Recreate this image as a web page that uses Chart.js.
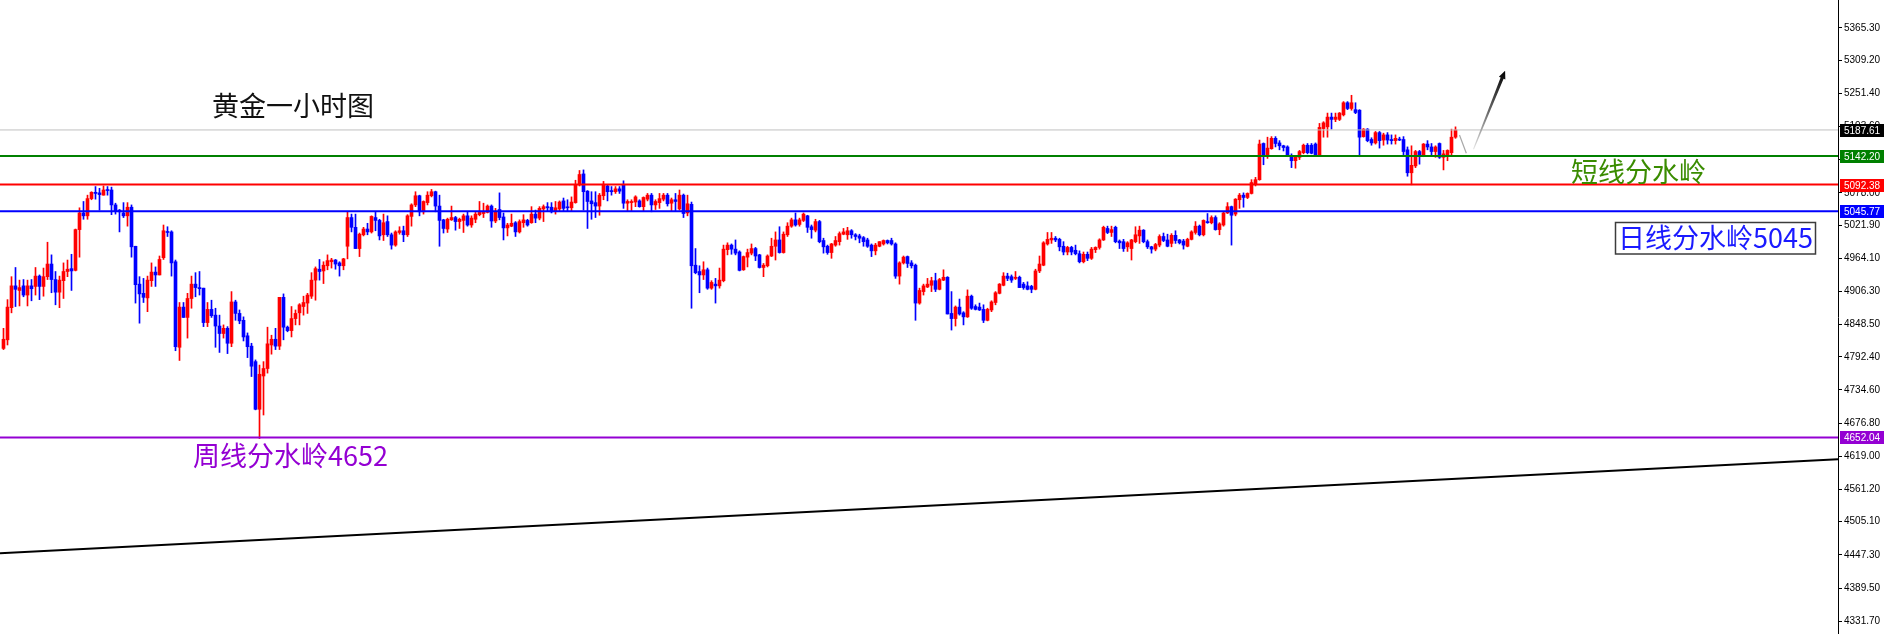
<!DOCTYPE html>
<html>
<head>
<meta charset="utf-8">
<title>黄金一小时图</title>
<script src="https://cdn.jsdelivr.net/npm/chart.js@4.4.1/dist/chart.umd.min.js"></script>
<style>
  html, body { margin: 0; padding: 0; background: #fff; }
  #wrap { width: 1885px; height: 634px; }
</style>
</head>
<body>
<div id="wrap"><canvas id="goldChart" width="1885" height="634"></canvas></div>
<script>
// hourly gold candles (one entry per bar)
const opens = [
  4807,4822,4878,4916,4908,4916,4900,4916,4915,4933,
  4915,4932,4954,4927,4905,4925,4941,4946,4943,5014,
  5043,5038,5068,5079,5078,5074,5083,5083,5057,5048,
  5043,5038,5053,4985,4919,4903,4895,4925,4940,4935,
  4965,5010,5010,4958,4809,4879,4861,4894,4919,4913,
  4912,4852,4875,4865,4846,4833,4842,4816,4888,4868,
  4856,4829,4811,4784,4701,4759,4772,4813,4823,4811,
  4896,4844,4838,4859,4869,4880,4886,4898,4926,4945,
  4942,4951,4958,4961,4956,4951,4985,5035,5018,4981,
  5005,5015,5010,5035,5030,5005,5028,5005,4987,5009,
  5012,5005,5037,5057,5073,5045,5061,5073,5080,5055,
  5031,5015,5031,5035,5028,5030,5038,5022,5032,5040,
  5042,5044,5055,5029,5049,5036,5017,5020,5026,5010,
  5026,5030,5026,5041,5034,5050,5054,5053,5046,5050,
  5064,5053,5052,5061,5092,5111,5081,5064,5061,5055,
  5073,5090,5082,5080,5085,5092,5060,5061,5062,5064,
  5054,5067,5074,5057,5061,5067,5074,5060,5066,5050,
  5074,5043,5058,4952,4941,4935,4944,4912,4919,4916,
  4925,4979,4987,4980,4975,4944,4966,4973,4981,4970,
  4948,4951,4968,4985,4996,4974,5005,5020,5031,5023,
  5030,5038,5019,5013,5028,4995,4985,4974,4987,4993,
  5006,5005,5012,5005,5003,5000,4996,4987,4977,4985,
  4989,4995,4995,4989,4933,4956,4967,4956,4952,4886,
  4906,4914,4917,4925,4910,4926,4931,4868,4859,4879,
  4869,4862,4898,4880,4879,4875,4856,4874,4887,4903,
  4917,4933,4932,4929,4931,4919,4916,4915,4910,4942,
  4952,4989,4996,4999,4997,4985,4975,4983,4978,4972,
  4958,4971,4964,4979,4983,4996,5016,5009,5018,4994,
  4993,4984,4981,4993,5003,5013,4993,4984,4980,4987,
  5002,4996,4990,5004,4996,4994,4985,4997,5009,5020,
  5005,5028,5026,5035,5014,5022,5043,5054,5041,5066,
  5074,5070,5077,5094,5101,5164,5142,5155,5173,5165,
  5160,5158,5142,5134,5140,5148,5161,5161,5163,5144,
  5190,5193,5210,5206,5206,5214,5235,5225,5223,5222,
  5176,5189,5171,5165,5183,5170,5179,5171,5169,5171,
  5171,5153,5113,5125,5150,5142,5163,5158,5150,5164,
  5140,5142,5148,5175
];
const highs = [
  4842,4892,4932,4948,4926,4927,4926,4927,4948,4935,
  4947,4992,4970,4941,4933,4956,4961,4971,5015,5052,
  5063,5074,5080,5089,5086,5090,5089,5088,5060,5049,
  5061,5061,5057,4985,4932,4929,4933,4956,4949,4968,
  5022,5019,5012,4961,4887,4887,4903,4933,4939,4941,
  4912,4887,4891,4877,4865,4848,4845,4906,4891,4874,
  4862,4834,4816,4787,4778,4784,4844,4830,4842,4896,
  4902,4846,4880,4874,4885,4898,4903,4939,4949,4962,
  4958,4970,4964,4962,4958,4964,5045,5041,5041,5008,
  5018,5025,5038,5044,5032,5041,5038,5008,5012,5019,
  5020,5040,5059,5080,5074,5064,5080,5084,5081,5074,
  5032,5034,5055,5037,5034,5041,5045,5038,5044,5063,
  5060,5057,5057,5051,5078,5043,5025,5041,5028,5031,
  5040,5032,5054,5048,5054,5057,5061,5061,5063,5064,
  5069,5066,5071,5100,5117,5118,5082,5080,5080,5077,
  5098,5092,5089,5089,5089,5099,5066,5066,5073,5066,
  5071,5077,5077,5066,5077,5077,5077,5069,5077,5083,
  5076,5074,5062,4981,4951,4958,4947,4925,4929,4947,
  4987,4991,4989,4996,4977,4968,4980,4989,4983,4971,
  4955,4970,4999,5010,5019,5010,5026,5034,5043,5034,
  5043,5039,5022,5032,5030,4999,4987,4990,5002,5010,
  5016,5018,5014,5007,5006,5002,4999,4989,4990,4993,
  4996,4996,4999,4991,4958,4968,4968,4960,4954,4912,
  4919,4929,4931,4938,4929,4944,4932,4906,4881,4893,
  4871,4909,4900,4883,4886,4883,4877,4890,4906,4920,
  4939,4938,4935,4941,4933,4922,4923,4917,4945,4968,
  4993,5009,5009,5002,4999,4993,4985,4985,4987,4977,
  4975,4975,4983,4984,4998,5020,5020,5020,5020,4996,
  4997,4993,4997,5019,5020,5014,4996,4985,4990,5005,
  5008,5006,5007,5012,4997,4997,4999,5012,5028,5022,
  5031,5042,5038,5038,5026,5045,5061,5055,5068,5077,
  5078,5078,5101,5105,5170,5165,5175,5176,5176,5169,
  5161,5160,5146,5142,5152,5163,5164,5164,5165,5199,
  5202,5217,5217,5217,5218,5237,5237,5248,5235,5223,
  5190,5190,5174,5185,5185,5182,5183,5179,5179,5175,
  5176,5158,5160,5152,5152,5164,5169,5164,5160,5165,
  5152,5153,5189,5193
];
const lows = [
  4805,4813,4869,4880,4881,4897,4881,4890,4900,4892,
  4898,4927,4904,4883,4878,4894,4932,4908,4942,4966,
  5032,5032,5066,5067,5048,5074,5074,5040,5041,5010,
  5035,5020,4966,4886,4851,4887,4871,4915,4915,4935,
  4962,5002,4933,4803,4786,4861,4825,4877,4897,4900,
  4845,4845,4861,4809,4800,4825,4798,4810,4856,4850,
  4820,4791,4758,4700,4650,4691,4764,4797,4805,4805,
  4822,4836,4827,4848,4848,4865,4868,4894,4891,4926,
  4920,4944,4947,4945,4933,4944,4963,5010,4981,4967,
  5003,5005,5008,5012,4996,4995,5002,4980,4985,5006,
  4993,5002,5020,5054,5038,5041,5057,5071,5045,4985,
  5008,5009,5030,5013,5016,5009,5020,5018,5026,5038,
  5035,5043,5018,5026,5031,4996,5003,5019,5002,5008,
  5018,5020,5025,5026,5031,5028,5047,5043,5041,5047,
  5047,5047,5047,5060,5090,5048,5016,5032,5035,5039,
  5066,5064,5074,5077,5077,5051,5047,5047,5054,5053,
  5047,5064,5045,5049,5051,5064,5055,5047,5047,5048,
  5035,5038,4877,4937,4904,4927,4910,4910,4886,4912,
  4923,4970,4971,4970,4942,4943,4949,4970,4960,4947,
  4932,4949,4967,4961,4973,4973,5002,5018,5020,5020,
  5028,5009,4999,5010,4991,4973,4971,4964,4985,4987,
  5005,4997,4999,4996,4991,4985,4983,4967,4970,4984,
  4987,4989,4987,4929,4919,4954,4948,4947,4856,4884,
  4900,4913,4906,4906,4909,4925,4867,4839,4846,4865,
  4848,4861,4875,4874,4873,4852,4855,4871,4883,4902,
  4916,4925,4922,4927,4913,4910,4909,4904,4909,4939,
  4951,4987,4990,4993,4977,4970,4970,4970,4970,4956,
  4956,4960,4962,4974,4980,4995,5007,5002,4991,4981,
  4976,4976,4961,4991,4990,4991,4981,4973,4977,4984,
  4993,4984,4984,4990,4989,4980,4984,4996,5006,5003,
  5003,5025,5024,5013,5005,5020,5042,4987,5038,5051,
  5053,5068,5076,5090,5100,5127,5138,5154,5158,5153,
  5151,5141,5122,5121,5136,5146,5146,5146,5142,5142,
  5175,5175,5189,5202,5204,5212,5223,5222,5216,5141,
  5175,5167,5161,5163,5156,5161,5163,5163,5163,5169,
  5142,5107,5092,5122,5128,5141,5153,5142,5140,5138,
  5118,5134,5142,5173
];
const closes = [
  4823,4879,4916,4910,4913,4900,4916,4911,4933,4915,
  4932,4954,4927,4905,4926,4941,4945,4942,5014,5043,
  5038,5068,5079,5077,5075,5083,5082,5057,5047,5045,
  5038,5053,4984,4918,4902,4896,4926,4940,4935,4962,
  5012,5009,4956,4810,4879,4861,4894,4919,4913,4911,
  4852,4875,4864,4846,4833,4842,4816,4888,4868,4855,
  4827,4810,4776,4701,4762,4772,4815,4823,4811,4896,
  4844,4838,4859,4868,4883,4887,4900,4926,4946,4941,
  4952,4960,4961,4954,4951,4963,5035,5018,4981,5006,
  5015,5010,5037,5030,5003,5026,5005,4987,5010,5012,
  5005,5038,5057,5073,5045,5063,5074,5080,5055,5030,
  5016,5032,5035,5028,5032,5038,5022,5034,5041,5044,
  5044,5055,5029,5045,5035,5017,5022,5025,5010,5028,
  5031,5022,5041,5034,5051,5054,5052,5045,5052,5062,
  5051,5052,5062,5092,5110,5080,5063,5059,5055,5074,
  5093,5080,5080,5085,5081,5060,5063,5063,5071,5054,
  5070,5074,5057,5063,5068,5074,5059,5066,5063,5074,
  5042,5059,4951,4939,4935,4944,4912,4922,4916,4926,
  4980,4987,4980,4973,4943,4967,4974,4981,4968,4948,
  4952,4968,4985,4996,4974,5006,5020,5031,5022,5031,
  5041,5018,5014,5028,4993,4984,4974,4989,4995,5007,
  5010,5012,5005,5002,4999,4993,4985,4977,4987,4993,
  4995,4991,4989,4933,4956,4966,4955,4951,4886,4908,
  4916,4919,4925,4910,4927,4931,4867,4859,4879,4867,
  4862,4898,4877,4875,4874,4856,4875,4888,4904,4919,
  4933,4929,4926,4931,4913,4913,4910,4910,4942,4954,
  4991,4997,4999,4996,4984,4975,4983,4975,4972,4958,
  4971,4964,4980,4983,4996,5018,5009,5014,4993,4991,
  4981,4991,4996,5005,5013,4993,4984,4980,4988,5002,
  4995,4985,5004,4995,4991,4987,4997,5010,5020,5005,
  5030,5026,5035,5014,5024,5043,5054,5039,5067,5074,
  5070,5077,5096,5101,5163,5142,5156,5173,5164,5160,
  5157,5142,5134,5141,5150,5161,5148,5147,5144,5192,
  5200,5210,5206,5210,5217,5235,5225,5235,5218,5175,
  5189,5169,5165,5183,5169,5179,5170,5169,5173,5170,
  5150,5113,5126,5150,5142,5163,5158,5150,5158,5140,
  5146,5152,5175,5187.61
];

// horizontal price levels: bid, short-term, red, daily, weekly
const levelPrices = [5187.61, 5142.20, 5092.38, 5045.77, 4652.04];
// price axis labels as printed on the right scale
const tickPrices = [
  5365.30, 5309.20, 5251.40, 5193.60, 5135.80, 5078.00, 5021.90, 4964.10,
  4906.30, 4848.50, 4792.40, 4734.60, 4676.80, 4619.00, 4561.20, 4505.10,
  4447.30, 4389.50, 4331.70
];
// rising trend line, given as (bar index, price) at both ends
const trendBars = [-0.875, 458.625];
const trendPrices = [4450, 4614];
// hand drawn forecast arrow: a small dip, then up
const arrowBars = [364.0, 365.7, 367.5, 375.4];
const arrowPrices = [5178.8, 5146.9, 5153.9, 5290.8];

const X_MIN = -0.875, X_MAX = 458.625;
const levelColors = ["#c0c0c0", "#008000", "#ff0000", "#0000ff", "#9400d3"];

const idx = opens.map((o, i) => i);
const up = idx.map(i => closes[i] >= opens[i]);
const candleColors = up.map(u => (u ? "#ff0000" : "#0000ff"));

const levelSets = levelPrices.map((p, k) => ({
  type: "line",
  data: [{ x: X_MIN - 5, y: p }, { x: X_MAX + 5, y: p }],
  borderColor: levelColors[k],
  borderWidth: k === 0 ? 1 : 2,
  pointRadius: 0,
  order: 0,
}));

// labels, arrow and the coloured price tags on the axis
const extras = {
  id: "extras",
  afterDatasetsDraw(chart) {
    const { ctx, scales } = chart;
    const px = (b, p) => [scales.x.getPixelForValue(b), scales.y.getPixelForValue(p)];
    ctx.save();

    // arrow, first the short gray dip
    const a0 = px(arrowBars[0], arrowPrices[0]);
    const a1 = px(arrowBars[1], arrowPrices[1]);
    const a2 = px(arrowBars[2], arrowPrices[2]);
    const a3 = px(arrowBars[3], arrowPrices[3]);
    ctx.strokeStyle = "#a8a8a8";
    ctx.lineWidth = 1.2;
    ctx.beginPath();
    ctx.moveTo(a0[0], a0[1]);
    ctx.lineTo(a1[0], a1[1]);
    ctx.stroke();

    // then the tapered shaft going up
    const dx = a3[0] - a2[0], dy = a3[1] - a2[1];
    const len = Math.hypot(dx, dy);
    const ux = dx / len, uy = dy / len, nx = -uy, ny = ux;
    const grad = ctx.createLinearGradient(a2[0], a2[1], a3[0], a3[1]);
    grad.addColorStop(0, "#e6e6e6");
    grad.addColorStop(0.45, "#707070");
    grad.addColorStop(1, "#000000");
    const headLen = 8, w0 = 0.5, w1 = 1.6;
    const bx = a3[0] - ux * headLen, by = a3[1] - uy * headLen;
    ctx.fillStyle = grad;
    ctx.beginPath();
    ctx.moveTo(a2[0] + nx * w0, a2[1] + ny * w0);
    ctx.lineTo(bx + nx * w1, by + ny * w1);
    ctx.lineTo(bx + nx * 3.5, by + ny * 3.5);
    ctx.lineTo(a3[0], a3[1]);
    ctx.lineTo(bx - nx * 3.5, by - ny * 3.5);
    ctx.lineTo(bx - nx * w1, by - ny * w1);
    ctx.lineTo(a2[0] - nx * w0, a2[1] - ny * w0);
    ctx.closePath();
    ctx.fill();

    // chart texts
    ctx.textBaseline = "middle";
    ctx.textAlign = "left";
    ctx.font = "27px 'Noto Sans CJK SC'";
    ctx.fillStyle = "#111111";
    ctx.fillText("黄金一小时图", 212, 106);
    ctx.fillStyle = "#3a8c00";
    ctx.fillText("短线分水岭", 1571, 172);
    ctx.fillStyle = "#9400d3";
    ctx.fillText("周线分水岭4652", 193, 456);

    ctx.fillStyle = "#ffffff";
    ctx.fillRect(1616, 223, 199, 31);
    ctx.strokeStyle = "#3c3c3c";
    ctx.lineWidth = 1.5;
    ctx.strokeRect(1615.5, 222.5, 200, 31.5);
    ctx.fillStyle = "#1a1aff";
    ctx.fillText("日线分水岭5045", 1618, 238);
    ctx.restore();
  },
  afterDraw(chart) {
    const { ctx, scales } = chart;
    ctx.save();
    ctx.font = "10px 'Liberation Sans'";
    ctx.textBaseline = "middle";
    ctx.textAlign = "left";
    levelPrices.forEach((p, k) => {
      const yy = Math.round(scales.y.getPixelForValue(p));
      ctx.fillStyle = k === 0 ? "#000000" : levelColors[k];
      ctx.fillRect(1840, yy - 6, 44, 13);
      ctx.fillStyle = "#ffffff";
      ctx.fillText(p.toFixed(2), 1844, yy + 1);
    });
    ctx.restore();
  },
};

new Chart(document.getElementById("goldChart"), {
  type: "bar",
  data: {
    datasets: [
      ...levelSets,
      {
        // trend line
        type: "line",
        data: trendBars.map((b, i) => ({ x: b, y: trendPrices[i] })),
        borderColor: "#000000",
        borderWidth: 2,
        pointRadius: 0,
        order: 0,
      },
      {
        // candle bodies
        data: idx.map(i => ({ x: i, y: [opens[i], closes[i]] })),
        backgroundColor: candleColors,
        barThickness: 3,
        minBarLength: 1,
        grouped: false,
        borderWidth: 0,
        order: 1,
      },
      {
        // wicks
        data: idx.map(i => ({ x: i, y: [lows[i], highs[i]] })),
        backgroundColor: candleColors,
        barThickness: 1,
        grouped: false,
        borderWidth: 0,
        order: 2,
      },
    ],
  },
  options: {
    responsive: false,
    animation: false,
    devicePixelRatio: 1,
    layout: { padding: 0 },
    plugins: {
      legend: { display: false },
      tooltip: { enabled: false },
    },
    scales: {
      x: { type: "linear", display: false, offset: false, min: X_MIN, max: X_MAX },
      y: {
        position: "right",
        min: 4309.5,
        max: 5414,
        afterBuildTicks: s => {
          s.ticks = tickPrices.map(v => ({ value: v }));
        },
        afterFit: s => {
          s.width = 47;
          s.paddingTop = 0;
          s.paddingBottom = 0;
        },
        ticks: {
          autoSkip: false,
          color: "#000000",
          padding: 2,
          font: { family: "Liberation Sans", size: 10 },
          callback: v => Number(v).toFixed(2),
        },
        grid: { drawOnChartArea: false, tickLength: 4, color: "#000000" },
        border: { display: true, color: "#000000", width: 1 },
      },
    },
  },
  plugins: [extras],
});
</script>
</body>
</html>
